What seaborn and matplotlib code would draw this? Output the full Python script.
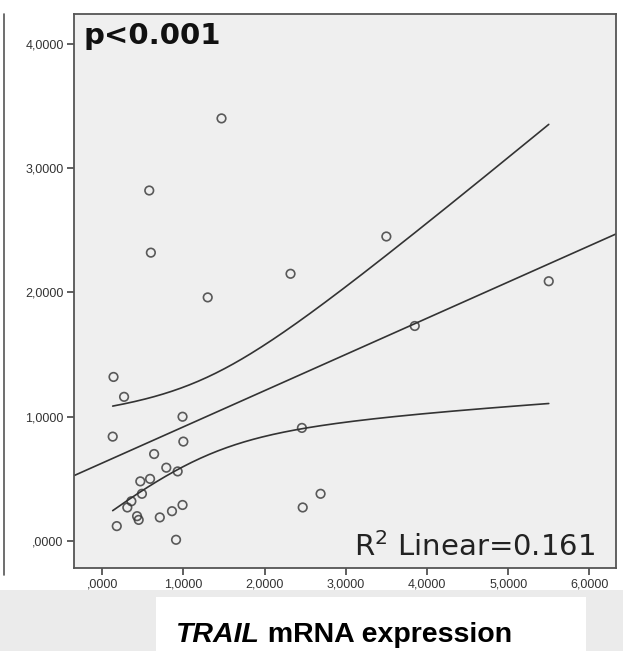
import numpy as np
import pandas as pd
import matplotlib
matplotlib.use("Agg")
import matplotlib.pyplot as plt
from matplotlib.ticker import FuncFormatter
from matplotlib.patches import Rectangle
from matplotlib.lines import Line2D
from matplotlib.text import Annotation
import seaborn as sns

# values (TRAIL mRNA vs. other marker)
trail_expr = [1.47, 0.58, 0.60, 2.32, 1.30, 3.50, 5.50, 3.85, 2.46, 2.69,
              2.47, 0.14, 0.27, 0.13, 0.99, 1.00, 0.64, 0.79, 0.93, 0.59,
              0.47, 0.49, 0.36, 0.31, 0.99, 0.86, 0.71, 0.43, 0.45, 0.18,
              0.91]
marker_expr = [3.40, 2.82, 2.32, 2.15, 1.96, 2.45, 2.09, 1.73, 0.91, 0.38,
               0.27, 1.32, 1.16, 0.84, 1.00, 0.80, 0.70, 0.59, 0.56, 0.50,
               0.48, 0.38, 0.32, 0.27, 0.29, 0.24, 0.19, 0.20, 0.17, 0.12,
               0.01]
x_ticks = [0, 1, 2, 3, 4, 5, 6]
y_ticks = [0, 1, 2, 3, 4]
p_label = "p<0.001"
r2_label = "R$^2$ Linear=0.161"

df = pd.DataFrame({"trail": trail_expr, "marker": marker_expr})

sns.set_style("ticks")
plt.rcParams["font.family"] = ["Liberation Sans", "DejaVu Sans"]

fig = plt.figure(figsize=(6.23, 6.51), dpi=100)
fig.patch.set_facecolor("white")

# grey strip + white label box under the chart, as in the source figure
fig.add_artist(Rectangle((0, 0), 1, 0.093, transform=fig.transFigure,
                         facecolor="#ebebeb", edgecolor="none", zorder=0))
fig.add_artist(Rectangle((0.25, 0), 0.69, 0.083, transform=fig.transFigure,
                         facecolor="white", edgecolor="none", zorder=1))
# border of the neighbouring panel on the left edge
fig.add_artist(Line2D([0.006, 0.006], [0.117, 0.978], transform=fig.transFigure,
                      color="#555555", lw=1.2))

ax = fig.add_axes([0.119, 0.1275, 0.87, 0.851])
ax.set_facecolor("#efefef")
ax.set_xlim(-0.345, 6.33)
ax.set_ylim(-0.217, 4.24)

sns.regplot(data=df, x="trail", y="marker", ax=ax, ci=None, truncate=False,
            marker="o",
            scatter_kws={"s": 38, "facecolors": "none", "edgecolors": "#333333",
                         "linewidths": 1.2},
            line_kws={"color": "#333333", "lw": 1.2})

# 95% confidence band of the mean, drawn as two curves (SPSS style)
x = np.array(trail_expr)
y = np.array(marker_expr)
n = len(x)
slope, icpt = np.polyfit(x, y, 1)
resid = y - (slope * x + icpt)
s = np.sqrt(np.sum(resid ** 2) / (n - 2))
sxx = np.sum((x - x.mean()) ** 2)
xs = np.linspace(x.min(), x.max(), 200)
fit = slope * xs + icpt
half = 2.045 * s * np.sqrt(1 / n + (xs - x.mean()) ** 2 / sxx)
sns.lineplot(x=xs, y=fit + half, ax=ax, color="#333333", lw=1.2)
sns.lineplot(x=xs, y=fit - half, ax=ax, color="#333333", lw=1.2)

def spss_fmt(v, pos):
    txt = ("%.4f" % v).replace(".", ",")
    return txt[1:] if txt.startswith("0") else txt

ax.set_xticks(x_ticks)
ax.set_yticks(y_ticks)
ax.xaxis.set_major_formatter(FuncFormatter(spss_fmt))
ax.yaxis.set_major_formatter(FuncFormatter(spss_fmt))
ax.tick_params(axis="both", direction="out", length=5, width=1.2, color="#444444",
               labelsize=9, labelcolor="#333333", pad=2.5)
ax.set_xlabel("")
ax.set_ylabel("")
for sp in ax.spines.values():
    sp.set_visible(True)
    sp.set_color("#555555")
    sp.set_linewidth(1.3)

ax.text(0.017, 0.985, p_label, transform=ax.transAxes, ha="left", va="top",
        fontsize=21, fontweight="bold", family=["DejaVu Sans"], color="#111111")
ax.text(0.961, 0.022, r2_label, transform=ax.transAxes, ha="right", va="baseline",
        fontsize=21, family=["DejaVu Sans"], color="#222222")

t1 = fig.text(0.282, 0.025, "TRAIL", ha="left", va="center", fontsize=20.5,
              fontweight="bold", style="italic", color="black")
fig.add_artist(Annotation(" mRNA expression", xy=(1, 0.5), xycoords=t1,
                          ha="left", va="center", fontsize=20.5,
                          fontweight="bold", color="black"))

fig.savefig("out.png", dpi=100, facecolor=fig.get_facecolor())
